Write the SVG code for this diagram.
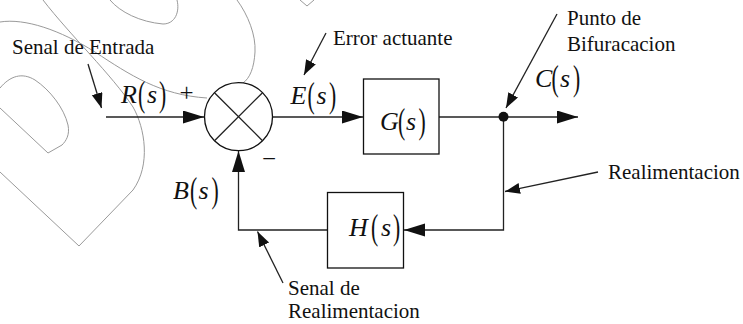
<svg xmlns="http://www.w3.org/2000/svg" width="743" height="324" viewBox="0 0 743 324">
  <style>
    .wm { fill: none; stroke: #9a9a9a; stroke-width: 1; }
    .ln { fill: none; stroke: #222; stroke-width: 1.3; }
    .box { fill: #fff; stroke: #111; stroke-width: 1.3; }
    .lbl { font-family: "Liberation Serif", "Times New Roman", serif; font-size: 21px; fill: #111; }
    .sign { font-family: "Liberation Serif", "Times New Roman", serif; font-size: 25px; fill: #111; }
    .m { font-family: "Liberation Serif", "Times New Roman", serif; font-size: 26px; font-style: italic; fill: #111; }
    .p { font-family: "Liberation Serif", "Times New Roman", serif; font-size: 24px; fill: #111; }
  </style>
  <defs>
    <marker id="head" markerUnits="userSpaceOnUse" markerWidth="22" markerHeight="14" refX="21" refY="6.5" orient="auto">
      <path d="M0,0 L21,6.5 L0,13 z" fill="#111"/>
    </marker>
    <marker id="tip" markerUnits="userSpaceOnUse" markerWidth="16" markerHeight="12" refX="15" refY="5.5" orient="auto">
      <path d="M0,0 L15,5.5 L0,11 z" fill="#111"/>
    </marker>
  </defs>

  <rect width="743" height="324" fill="#fff"/>

  <!-- faint background outline -->
  <g id="backdrop">
    <path class="wm" d="M43,0 C70,35 112,75 133,107 C145,128 151,165 133,190 L79,246 L0,172"/>
    <path class="wm" d="M0,22 C25,18 60,30 95,52 C130,75 160,95 207,98"/>
    <path class="wm" d="M0,88 C10,76 22,72 35,80 C50,90 64,108 68,125 C70,135 66,141 62,145 L48,153 L0,108"/>
    <path class="wm" d="M110,0 C120,12 140,22 163,24 C175,24 180,12 177,0"/>
    <path class="wm" d="M237,0 C248,15 256,35 255,52 C254,68 250,78 243,83"/>
    <path class="wm" d="M300,0 L307,6 L314,0"/>
  </g>

  <!-- signal flow lines -->
  <g id="connectors">
    <path class="ln" d="M106,117 L204,117" marker-end="url(#head)"/>
    <path class="ln" d="M272.5,117 L363,117" marker-end="url(#head)"/>
    <path class="ln" d="M439,117 L578,117" marker-end="url(#head)"/>
    <path class="ln" d="M503.5,117 L503.5,230 L404,230" marker-end="url(#head)"/>
    <path class="ln" d="M327,230 L238.5,230 L238.5,151" marker-end="url(#head)"/>
    <!-- annotation pointers -->
    <path class="ln" d="M88,64 L101.5,108" marker-end="url(#tip)"/>
    <path class="ln" d="M326,33 L304,75" marker-end="url(#tip)"/>
    <path class="ln" d="M557,14 L506,108" marker-end="url(#tip)"/>
    <path class="ln" d="M598,172 L505,191.5" marker-end="url(#tip)"/>
    <path class="ln" d="M283,283 L257.5,231.5" marker-end="url(#tip)"/>
  </g>

  <!-- summing junction -->
  <g id="sum">
    <circle cx="238.5" cy="116.7" r="34" fill="#fff" stroke="#111" stroke-width="1.3"/>
    <path class="ln" d="M214.5,92.7 L262.5,140.7 M262.5,92.7 L214.5,140.7"/>
    <text class="sign" x="179.5" y="100.5">+</text>
    <text class="sign" x="262" y="167">−</text>
  </g>

  <!-- forward block -->
  <g id="G">
    <rect class="box" x="363.5" y="79" width="75.5" height="75"/>
    <text class="m" x="380" y="130">G</text>
    <text class="p" transform="translate(398,132.5) scale(0.9,1.45)">(</text>
    <text class="m" x="406" y="130">s</text>
    <text class="p" transform="translate(418.5,132.5) scale(0.9,1.45)">)</text>
  </g>

  <!-- feedback block -->
  <g id="H">
    <rect class="box" x="327.5" y="192.5" width="76" height="75.5"/>
    <text class="m" x="349" y="236">H</text>
    <text class="p" transform="translate(371,238.5) scale(0.9,1.45)">(</text>
    <text class="m" x="381" y="236">s</text>
    <text class="p" transform="translate(393,238.5) scale(0.9,1.45)">)</text>
  </g>

  <!-- branch point -->
  <g id="branch">
    <circle cx="503.5" cy="116.7" r="5" fill="#111"/>
  </g>

  <!-- signal names -->
  <g id="R">
    <text class="m" x="121" y="103">R</text>
    <text class="p" transform="translate(138,105.5) scale(0.9,1.45)">(</text>
    <text class="m" x="147" y="103">s</text>
    <text class="p" transform="translate(159,105.5) scale(0.9,1.45)">)</text>
  </g>
  <g id="E">
    <text class="m" x="290.5" y="104">E</text>
    <text class="p" transform="translate(307.5,106.5) scale(0.9,1.45)">(</text>
    <text class="m" x="316.5" y="104">s</text>
    <text class="p" transform="translate(329,106.5) scale(0.9,1.45)">)</text>
  </g>
  <g id="C">
    <text class="m" x="535" y="87">C</text>
    <text class="p" transform="translate(551.5,89.5) scale(0.9,1.45)">(</text>
    <text class="m" x="560" y="87">s</text>
    <text class="p" transform="translate(573,89.5) scale(0.9,1.45)">)</text>
  </g>
  <g id="B">
    <text class="m" x="173" y="199">B</text>
    <text class="p" transform="translate(190,201.5) scale(0.9,1.45)">(</text>
    <text class="m" x="198.5" y="199">s</text>
    <text class="p" transform="translate(211.5,201.5) scale(0.9,1.45)">)</text>
  </g>

  <!-- annotations -->
  <g id="notes">
    <text class="lbl" x="12" y="54">Senal de Entrada</text>
    <text class="lbl" x="333" y="45">Error actuante</text>
    <text class="lbl" x="567" y="25">Punto de</text>
    <text class="lbl" x="567" y="51">Bifuracacion</text>
    <text class="lbl" x="608" y="179">Realimentacion</text>
    <text class="lbl" x="288" y="295">Senal de</text>
    <text class="lbl" x="288" y="318">Realimentacion</text>
  </g>
</svg>
